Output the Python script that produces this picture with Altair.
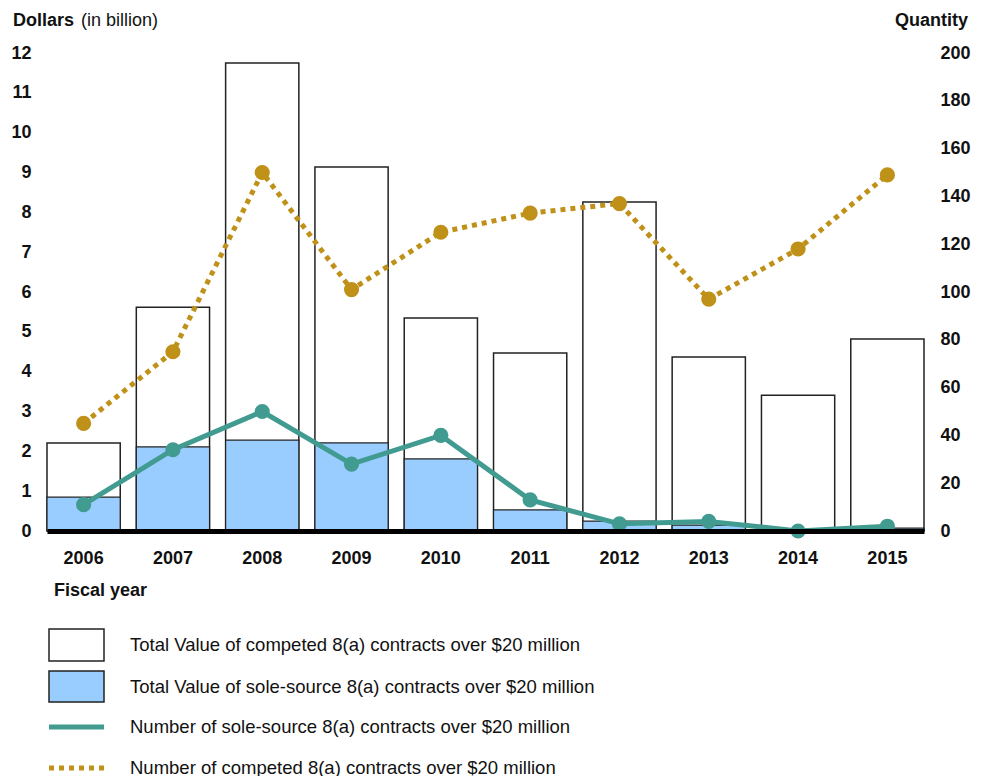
import altair as alt
import pandas as pd

years = ["2006", "2007", "2008", "2009", "2010", "2011", "2012", "2013", "2014", "2015"]
sole_value = [0.85, 2.11, 2.28, 2.21, 1.81, 0.53, 0.25, 0.15, 0.02, 0.07]
competed_value = [1.36, 3.51, 9.47, 6.93, 3.54, 3.94, 8.01, 4.22, 3.39, 4.75]
sole_count = [11, 34, 50, 28, 40, 13, 3, 4, 0, 2]
competed_count = [45, 75, 150, 101, 125, 133, 137, 97, 118, 149]

legend_labels = [
    "Total Value of competed 8(a) contracts over $20 million",
    "Total Value of sole-source 8(a) contracts over $20 million",
    "Number of sole-source 8(a) contracts over $20 million",
    "Number of competed 8(a) contracts over $20 million",
]

TEAL = "#419b90"
GOLD = "#bf9118"
BLUE = "#99ccff"
FONT = "Liberation Sans"

df = pd.DataFrame({
    "year": years,
    "sole": sole_value,
    "competed": competed_value,
    "total": [s + c for s, c in zip(sole_value, competed_value)],
    "sole_n": sole_count,
    "comp_n": competed_count,
})

xaxis = alt.Axis(labelAngle=0, labelFontSize=18, labelFontWeight="bold",
                 labelFont=FONT, labelColor="#111", labelPadding=18,
                 ticks=False, domainColor="black", domainWidth=5, zindex=1)
xenc = alt.X("year:N", title=None,
             scale=alt.Scale(paddingInner=0.18, paddingOuter=0), axis=xaxis)

yleft = alt.Scale(domain=[0, 12], nice=False)
left_axis = alt.Axis(title=None, values=list(range(0, 13)), labelFontSize=18,
                     labelFontWeight="bold", labelFont=FONT, labelColor="#111",
                     ticks=False, domain=False, grid=False, labelPadding=16,
                     minExtent=39, maxExtent=39)

base = alt.Chart(df)

white_bars = base.mark_bar(fill="white", stroke="#222", strokeWidth=1.5).encode(
    x=xenc, y=alt.Y("total:Q", scale=yleft, axis=left_axis))
blue_bars = base.mark_bar(fill=BLUE, stroke="#222", strokeWidth=1.2).encode(
    x=xenc, y=alt.Y("sole:Q", scale=yleft, axis=left_axis))
bars = alt.layer(white_bars, blue_bars)

yright = alt.Scale(domain=[0, 200], nice=False)
right_axis = alt.Axis(title=None, orient="right", values=list(range(0, 201, 20)),
                      labelFontSize=18, labelFontWeight="bold", labelFont=FONT,
                      labelColor="#111", ticks=False, domain=False, grid=False,
                      labelPadding=16)

gold_line = base.mark_line(color=GOLD, strokeWidth=5, strokeDash=[5, 5]).encode(
    x=xenc, y=alt.Y("comp_n:Q", scale=yright, axis=right_axis))
gold_pts = base.mark_circle(color=GOLD, size=230, opacity=1).encode(
    x=xenc, y=alt.Y("comp_n:Q", scale=yright, axis=right_axis))
teal_line = base.mark_line(color=TEAL, strokeWidth=5).encode(
    x=xenc, y=alt.Y("sole_n:Q", scale=yright, axis=right_axis))
teal_pts = base.mark_circle(color=TEAL, size=230, opacity=1).encode(
    x=xenc, y=alt.Y("sole_n:Q", scale=yright, axis=right_axis))
lines = alt.layer(gold_line, gold_pts, teal_line, teal_pts)

one = alt.Chart(pd.DataFrame({"k": [0]}))

def txt(s, x, y, weight="normal", align="left", size=18):
    return one.mark_text(text=s, align=align, baseline="middle", font=FONT,
                         fontSize=size, fontWeight=weight, color="#111").encode(
        x=alt.value(x), y=alt.value(y))

LS = 18.5
annots = alt.layer(
    txt("Dollars", -34, -32, "bold"),
    txt("(in billion)", 34, -32),
    txt("Quantity", 921, -32, "bold", align="right"),
    txt("Fiscal year", 7, 538, "bold"),
    one.mark_rect(fill="white", stroke="#222", strokeWidth=1.5).encode(
        x=alt.value(2), x2=alt.value(57), y=alt.value(576), y2=alt.value(608)),
    one.mark_rect(fill=BLUE, stroke="#222", strokeWidth=1.5).encode(
        x=alt.value(2), x2=alt.value(57), y=alt.value(618), y2=alt.value(649)),
    one.mark_rule(color=TEAL, strokeWidth=5).encode(
        x=alt.value(2), x2=alt.value(57), y=alt.value(674)),
    one.mark_rule(color=GOLD, strokeWidth=5, strokeDash=[5, 5]).encode(
        x=alt.value(2), x2=alt.value(57), y=alt.value(715)),
    txt(legend_labels[0], 83, 592, size=LS),
    txt(legend_labels[1], 83, 634, size=LS),
    txt(legend_labels[2], 83, 674, size=LS),
    txt(legend_labels[3], 83, 715, size=LS),
)

chart = alt.layer(bars, lines, annots).resolve_scale(y="independent").properties(
    width=877, height=478, background="white",
    padding={"left": 0, "top": 4, "right": 0, "bottom": 0},
).configure_view(strokeWidth=0, stroke="transparent")

chart.save("out.html", embed_options={"renderer": "svg", "actions": False})
